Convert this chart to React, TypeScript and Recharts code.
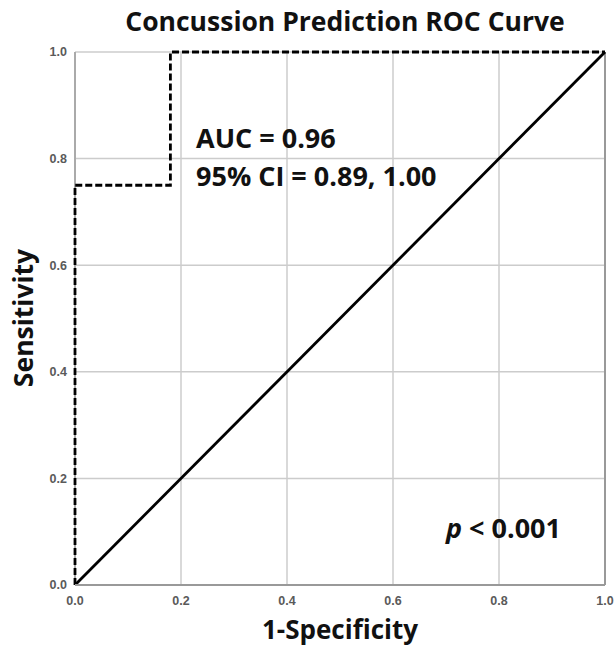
import { LineChart, Line, XAxis, YAxis, CartesianGrid, ReferenceLine } from 'recharts';

// ROC curve points (1-specificity, sensitivity)
const rocFpr = [0, 0, 0.18, 0.18, 1];
const rocTpr = [0, 0.75, 0.75, 1, 1];

// chance diagonal
const refFpr = [0, 1];
const refTpr = [0, 1];

const axisTicks = [0, 0.2, 0.4, 0.6, 0.8, 1];

const titleText = 'Concussion Prediction ROC Curve';
const xLabel = '1-Specificity';
const yLabel = 'Sensitivity';
const aucText = 'AUC = 0.96';
const ciText = '95% CI = 0.89, 1.00';

const rocData = rocFpr.map((x, i) => ({ x, y: rocTpr[i] }));
const refData = refFpr.map((x, i) => ({ x, y: refTpr[i] }));

const W = 616;
const H = 649;
const font = '"Open Sans", "Noto Sans", sans-serif';
const tickStyle = { fontFamily: '"Liberation Sans", Arial, sans-serif', fontSize: 12.5, fontWeight: 700, fill: '#5a5a5a' };

const App = () => {
  return (
    <div style={{ position: 'relative', width: W, height: H, background: '#fff' }}>
      <style>{'body { margin: 0; }'}</style>
      <LineChart width={W} height={H} margin={{ top: 52, right: 11, bottom: 0, left: 0 }}>
        <CartesianGrid stroke="#cccccc" strokeWidth={1.5} />
        <XAxis
          type="number"
          dataKey="x"
          domain={[0, 1]}
          ticks={axisTicks}
          tickFormatter={(v: number) => v.toFixed(1)}
          tickLine={false}
          tickMargin={5}
          height={64}
          stroke="#999"
          strokeWidth={2}
          tick={tickStyle}
        />
        <YAxis
          type="number"
          dataKey="y"
          domain={[0, 1]}
          ticks={axisTicks}
          tickFormatter={(v: number) => v.toFixed(1)}
          tickLine={false}
          axisLine={false}
          width={75}
          tick={tickStyle}
        />
        <ReferenceLine x={0} stroke="#aaa" strokeWidth={2} />
        <ReferenceLine x={1} stroke="#999" strokeWidth={2} />
        <Line
          data={refData}
          dataKey="y"
          type="linear"
          stroke="#000"
          strokeWidth={2.8}
          dot={false}
          isAnimationActive={false}
        />
        <Line
          data={rocData}
          dataKey="y"
          type="linear"
          stroke="#000"
          strokeWidth={2.8}
          strokeDasharray="7 3"
          dot={false}
          isAnimationActive={false}
        />
      </LineChart>
      <svg width={W} height={H} style={{ position: 'absolute', left: 0, top: 0, pointerEvents: 'none' }}>
        <text x={345} y={31} textAnchor="middle" fontFamily={font} fontWeight={700} fontSize={26.5} fill="#111">
          {titleText}
        </text>
        <text
          x={0}
          y={0}
          transform="translate(33, 318) rotate(-90)"
          textAnchor="middle"
          fontFamily={font}
          fontWeight={700}
          fontSize={26.5}
          fill="#111"
        >
          {yLabel}
        </text>
        <text x={340} y={639} textAnchor="middle" fontFamily={font} fontWeight={700} fontSize={26} fill="#111">
          {xLabel}
        </text>
        <text x={196} y={148} fontFamily={font} fontWeight={700} fontSize={27} fill="#111">
          {aucText}
        </text>
        <text x={196} y={186} fontFamily={font} fontWeight={700} fontSize={27} fill="#111">
          {ciText}
        </text>
        <text x={446} y={538} fontFamily={font} fontWeight={700} fontSize={27} fill="#111">
          <tspan fontStyle="italic">p</tspan>
          <tspan> &lt; 0.001</tspan>
        </text>
      </svg>
    </div>
  );
};

export default App;
